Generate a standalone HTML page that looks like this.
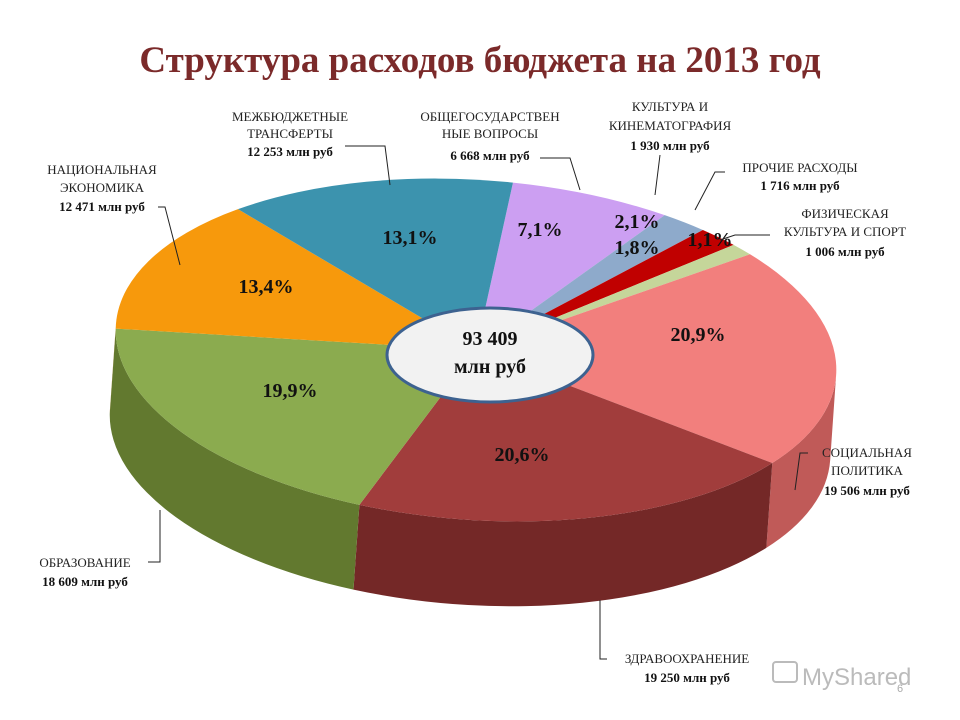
<!DOCTYPE html>
<html><head><meta charset="utf-8">
<style>
html,body{margin:0;padding:0;background:#fff;}
body{width:960px;height:720px;overflow:hidden;position:relative;font-family:"Liberation Serif","Noto Serif CJK SC",serif;}
#title{position:absolute;left:0;width:960px;top:39px;text-align:center;font-size:37px;font-weight:bold;color:#7b2a2a;}
svg{position:absolute;left:0;top:0;}
.lab{font-family:"Liberation Serif",serif;font-size:13px;fill:#222;}
.labb{font-family:"Liberation Serif",serif;font-size:13px;font-weight:bold;fill:#111;}
.pct{font-family:"Liberation Serif",serif;font-size:20px;font-weight:bold;fill:#111;}
</style></head>
<body>
<div id="title">Структура расходов бюджета на 2013 год</div>
<svg id="chart" width="960" height="720">
  <g id="pie" transform="rotate(4 476 350)"></g>
  <g id="pcts"></g>
  <g>
    <ellipse cx="490" cy="355" rx="103" ry="47" fill="#f2f2f2" stroke="#3d6290" stroke-width="3"/>
    <text x="490" y="345" text-anchor="middle" class="pct">93 409</text>
    <text x="490" y="373" text-anchor="middle" class="pct">млн руб</text>
  </g>
  <g id="leaders" fill="none" stroke="#222" stroke-width="1">
    <polyline points="345,146 385,146 390,185"/>
    <polyline points="540,158 570,158 580,190"/>
    <polyline points="660,155 655,195"/>
    <polyline points="725,172 715,172 695,210"/>
    <polyline points="770,235 735,235 720,240"/>
    <polyline points="158,207 165,207 180,265"/>
    <polyline points="808,453 800,453 795,490"/>
    <polyline points="148,562 160,562 160,510"/>
    <polyline points="607,659 600,659 600,600"/>
  </g>
  <g>
    <text x="290" y="121" text-anchor="middle" class="lab">МЕЖБЮДЖЕТНЫЕ</text>
    <text x="290" y="138" text-anchor="middle" class="lab">ТРАНСФЕРТЫ</text>
    <text x="290" y="156" text-anchor="middle" class="labb">12 253 млн руб</text>
    <text x="490" y="121" text-anchor="middle" class="lab">ОБЩЕГОСУДАРСТВЕН</text>
    <text x="490" y="138" text-anchor="middle" class="lab">НЫЕ ВОПРОСЫ</text>
    <text x="490" y="160" text-anchor="middle" class="labb">6 668 млн руб</text>
    <text x="670" y="111" text-anchor="middle" class="lab">КУЛЬТУРА И</text>
    <text x="670" y="130" text-anchor="middle" class="lab">КИНЕМАТОГРАФИЯ</text>
    <text x="670" y="150" text-anchor="middle" class="labb">1 930 млн руб</text>
    <text x="800" y="172" text-anchor="middle" class="lab">ПРОЧИЕ РАСХОДЫ</text>
    <text x="800" y="190" text-anchor="middle" class="labb">1 716 млн руб</text>
    <text x="845" y="218" text-anchor="middle" class="lab">ФИЗИЧЕСКАЯ</text>
    <text x="845" y="236" text-anchor="middle" class="lab">КУЛЬТУРА И СПОРТ</text>
    <text x="845" y="256" text-anchor="middle" class="labb">1 006 млн руб</text>
    <text x="102" y="174" text-anchor="middle" class="lab">НАЦИОНАЛЬНАЯ</text>
    <text x="102" y="192" text-anchor="middle" class="lab">ЭКОНОМИКА</text>
    <text x="102" y="211" text-anchor="middle" class="labb">12 471 млн руб</text>
    <text x="867" y="457" text-anchor="middle" class="lab">СОЦИАЛЬНАЯ</text>
    <text x="867" y="475" text-anchor="middle" class="lab">ПОЛИТИКА</text>
    <text x="867" y="495" text-anchor="middle" class="labb">19 506 млн руб</text>
    <text x="85" y="567" text-anchor="middle" class="lab">ОБРАЗОВАНИЕ</text>
    <text x="85" y="586" text-anchor="middle" class="labb">18 609 млн руб</text>
    <text x="687" y="663" text-anchor="middle" class="lab">ЗДРАВООХРАНЕНИЕ</text>
    <text x="687" y="682" text-anchor="middle" class="labb">19 250 млн руб</text>
  </g>
  <g>
    <rect x="773" y="662" width="24" height="20" rx="3" fill="none" stroke="#bbb" stroke-width="2"/>
    <text x="802" y="685" font-family="Liberation Sans,sans-serif" font-size="24" fill="#bbb">MyShared</text>
    <text x="897" y="692" font-family="Liberation Sans,sans-serif" font-size="11" fill="#aaa">6</text>
  </g>
</svg>
<script>
const categories = ["Общегосударственные вопросы","Культура и кинематография","Прочие расходы","Физическая культура и спорт","Социальная политика","Здравоохранение","Образование","Национальная экономика","Межбюджетные трансферты"];
const values = [6668, 1930, 1716, 1006, 19506, 19250, 18609, 12471, 12253];
const pctLabels = ["7,1%","2,1%","1,8%","1,1%","20,9%","20,6%","19,9%","13,4%","13,1%"];
const topColors = ["#cc9ff2","#8eaacb","#c00000","#c5d69a","#f27f7d","#a13d3c","#8bab4f","#f7990c","#3c93ae"];
const sideColors = ["#9a74bd","#6a809c","#8a0000","#97a670","#c05a58","#742827","#62792f","#b86c05","#2a6a80"];
const labelPos = [[540,236],[637,228],[637,254],[710,246],[698,341],[522,461],[290,397],[266,293],[410,244]];

const cx=476, cy=350, rx=361, ry=170, depth=85, start=-86;
const NS="http://www.w3.org/2000/svg";
const pie=document.getElementById('pie');
const total=values.reduce((a,b)=>a+b,0);
function pt(t,dy){const r=t*Math.PI/180;return [cx+rx*Math.cos(r), cy+ry*Math.sin(r)+(dy||0)];}
let angles=[];let a=start;
values.forEach(v=>{const b=a+v/total*360;angles.push([a,b]);a=b;});
angles.forEach(([a0,b0],i)=>{
  let out=[];
  for(let k=-1;k<=1;k++){const lo=Math.max(a0,k*360),hi=Math.min(b0,k*360+180);if(hi>lo)out.push([lo,hi]);}
  out.forEach(([s,e])=>{
    const p0=pt(s),p1=pt(e),q1=pt(e,depth),q0=pt(s,depth);
    const large=(e-s)>180?1:0;
    const p=document.createElementNS(NS,'path');
    p.setAttribute('d',`M${p0} A${rx} ${ry} 0 ${large} 1 ${p1} L${q1} A${rx} ${ry} 0 ${large} 0 ${q0} Z`);
    p.setAttribute('fill',sideColors[i]);
    
    
    pie.appendChild(p);
  });
});
angles.forEach(([s,e],i)=>{
  const p0=pt(s),p1=pt(e);
  const large=(e-s)>180?1:0;
  const p=document.createElementNS(NS,'path');
  p.setAttribute('d',`M${cx},${cy} L${p0} A${rx} ${ry} 0 ${large} 1 ${p1} Z`);
  p.setAttribute('fill',topColors[i]);
  
  
  pie.appendChild(p);
});
const pg=document.getElementById('pcts');
pctLabels.forEach((t,i)=>{
  const tx=document.createElementNS(NS,'text');
  tx.setAttribute('x',labelPos[i][0]);tx.setAttribute('y',labelPos[i][1]);
  tx.setAttribute('text-anchor','middle');tx.setAttribute('class','pct');
  tx.textContent=t;
  
  
  pg.appendChild(tx);
});
</script>
</body></html>
